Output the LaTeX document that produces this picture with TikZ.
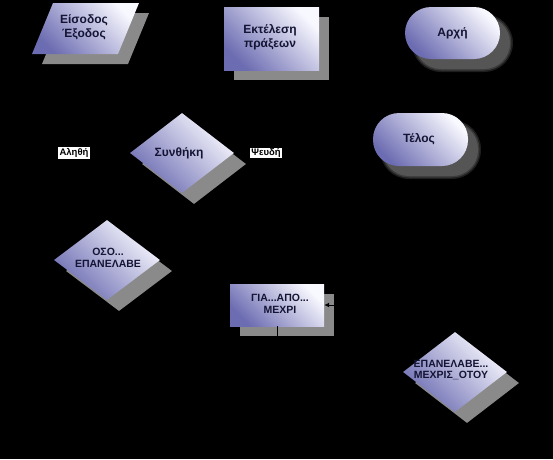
\documentclass[tikz,border=0pt]{standalone}
\usepackage{fontspec}
\setmainfont{Liberation Sans}
\usetikzlibrary{shapes.geometric,shadows,arrows.meta}
\definecolor{lavdark}{RGB}{108,108,178}
\definecolor{lavlight}{RGB}{248,248,255}
\definecolor{shadowgray}{RGB}{138,138,138}
\definecolor{inktext}{RGB}{20,20,52}
\tikzset{
  gradfill/.style={top color=lavlight, bottom color=lavdark, shading angle=-45},
  hardshadow/.style={general shadow={fill=shadowgray, shadow xshift=#1, shadow yshift=-#1}},
  boxshape/.style={rectangle, draw=none, gradfill, inner sep=0pt, hardshadow=10pt},
  roundshape/.style={rectangle, rounded corners=26pt, draw=none, gradfill, inner sep=0pt, minimum width=95pt, minimum height=52pt},
  diashape/.style={diamond, draw=none, gradfill, inner sep=0pt, minimum width=104pt, minimum height=80pt,
    general shadow={fill=shadowgray, shadow xshift=12pt, shadow yshift=-11pt}},
  lbl/.style={font=\bfseries\fontsize{12}{14}\selectfont, text=inktext, align=center, inner sep=0pt},
  caps/.style={font=\bfseries\fontsize{10.5}{11.5}\selectfont, text=inktext, align=center, inner sep=0pt},
  tag/.style={fill=white, text=black, font=\bfseries\fontsize{9.5}{10}\selectfont, inner xsep=1.5pt, inner ysep=1pt},
  loopline/.style={draw=black, line width=1pt},
  softshadow/.style={fill=shadowgray, opacity=#1},
}
\begin{document}
\begin{tikzpicture}[x=1pt,y=-1pt]
\fill[black] (0,0) rectangle (553,459);
\useasboundingbox (0,0) rectangle (553,459);

% Input / output parallelogram
\fill[shadowgray] (63,13) -- (149,13) -- (128,64) -- (42,64) -- cycle;
\shade[gradfill] (53,3) -- (139,3) -- (118,54) -- (32,54) -- cycle;
\node[lbl] (io) at (84,27) {Είσοδος\\Έξοδος};

% Process box
\node[boxshape, minimum width=95pt, minimum height=63pt] (proc) at (271.5,38.5) {};
\node[lbl] (proctxt) at (270,37) {Εκτέλεση\\πράξεων};

% Start terminal
\foreach \e/\o/\r in {3/0.22/29, 1.5/0.28/27.5, 0/0.33/26}
  \fill[softshadow=\o, rounded corners=\r pt] (415-\e,17-\e) rectangle (510+\e,69+\e);
\node[roundshape] (start) at (452.5,33) {};
\node[lbl] (starttxt) at (start) {Αρχή};

% End terminal
\foreach \e/\o/\r in {3/0.22/29, 1.5/0.28/27.5, 0/0.33/26}
  \fill[softshadow=\o, rounded corners=\r pt] (383-\e,123-\e) rectangle (478+\e,176+\e);
\node[roundshape, minimum height=53pt] (stop) at (420.5,139.5) {};
\node[lbl] (stoptxt) at (419,139) {Τέλος};

% Condition diamond
\node[diashape] (cond) at (182,153) {};
\node[lbl] (condtxt) at (179,153) {Συνθήκη};
\node[tag] (true) at (74,153) {Αληθή};
\node[tag] (false) at (266,153) {Ψευδή};

% While loop diamond
\node[diashape, minimum width=106pt] (while) at (107,260) {};
\node[caps] (whiletxt) at (108,258) {ΟΣΟ...\\ΕΠΑΝΕΛΑΒΕ};

% For loop box
\node[boxshape, minimum width=94pt, minimum height=42pt] (gia) at (277,305) {};
\node[caps] (giatxt) at (280,304) {ΓΙΑ...ΑΠΟ...\\ΜΕΧΡΙ};
\coordinate (gb) at (277,350);
\coordinate (gr) at (358,350);
\draw[loopline, -{Latex[length=5pt,width=5pt]}] (gia.south) -- (gb) -- (gr) |- (gia.east);

% Repeat-until diamond
\node[diashape] (repeat) at (455,372) {};
\node[caps] (repeattxt) at (451,370) {ΕΠΑΝΕΛΑΒΕ...\\ΜΕΧΡΙΣ\_ΟΤΟΥ};
\end{tikzpicture}
\end{document}
